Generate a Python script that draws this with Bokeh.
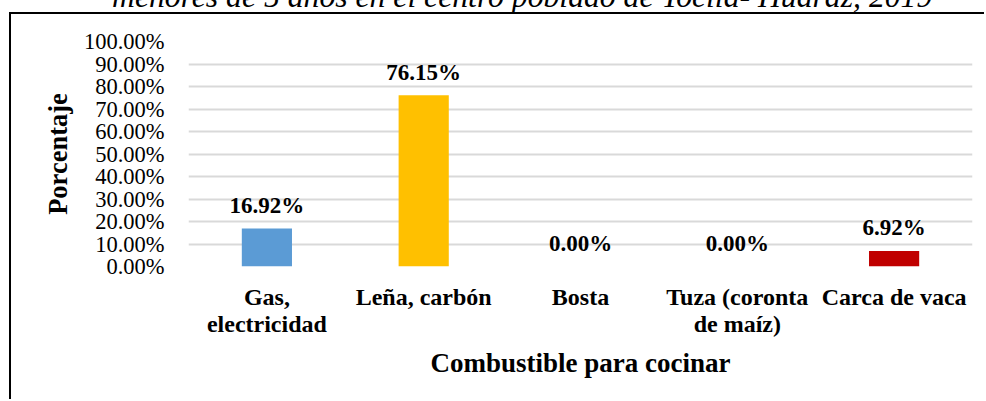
from bokeh.plotting import figure
from bokeh.models import (ColumnDataSource, Range1d, FixedTicker, PrintfTickFormatter,
                          LabelSet, Div)
from bokeh.layouts import column
from bokeh.embed import file_html
from bokeh.resources import INLINE

categories = ["Gas,\nelectricidad", "Leña, carbón", "Bosta", "Tuza (coronta\nde maíz)", "Carca de vaca"]
values = [16.92, 76.15, 0.00, 0.00, 6.92]
colors = ["#5B9BD5", "#FFC000", "#5B9BD5", "#5B9BD5", "#C00000"]
labels = ["16.92%", "76.15%", "0.00%", "0.00%", "6.92%"]
y_ticks = [0, 10, 20, 30, 40, 50, 60, 70, 80, 90, 100]
title_text = "menores de 5 años en el centro poblado de Toclla- Huaraz, 2019"

SERIF = "Liberation Serif"

src = ColumnDataSource(dict(cat=categories, val=values, color=colors, lab=labels))

# partially visible caption above the chart box (cut at the top, as in the source image)
title_div = Div(
    text=("<div style=\"position:relative;top:-19px;left:112px;white-space:nowrap;"
          "font-family:'Liberation Serif';font-style:italic;font-size:31.7px;"
          "line-height:31px;color:#000;\">" + title_text + "</div>"),
    width=986, height=12, styles={"overflow": "hidden", "margin": "0", "padding": "0"})

p = figure(x_range=categories, y_range=Range1d(0, 100), width=975, height=387,
           output_backend="svg", toolbar_location=None,
           min_border_left=177, min_border_right=14, min_border_top=27, min_border_bottom=135)
p.styles = {"border-top": "2px solid black", "border-left": "2px solid black",
            "margin-left": "9px"}

p.vbar(x="cat", top="val", width=0.32, fill_color="color", line_color=None, source=src)

p.add_layout(LabelSet(x="cat", y="val", text="lab", source=src, y_offset=23,
                      text_align="center", text_baseline="middle",
                      text_font=SERIF, text_font_style="bold", text_font_size="23px",
                      text_color="black"))

p.outline_line_color = None
p.background_fill_color = "white"
p.border_fill_color = "white"

p.xgrid.grid_line_color = None
p.ygrid.grid_line_color = "#D9D9D9"
p.ygrid.grid_line_width = 2
p.ygrid.ticker = FixedTicker(ticks=y_ticks)

p.yaxis.ticker = FixedTicker(ticks=y_ticks)
p.yaxis.formatter = PrintfTickFormatter(format="%.2f%%")
p.yaxis.axis_line_color = None
p.yaxis.major_tick_line_color = None
p.yaxis.minor_tick_line_color = None
p.yaxis.major_label_standoff = 18
p.yaxis.major_label_text_font = SERIF
p.yaxis.major_label_text_font_size = "22.5px"
p.yaxis.major_label_text_color = "black"
p.yaxis.axis_label = "Porcentaje"
p.yaxis.axis_label_text_font = SERIF
p.yaxis.axis_label_text_font_style = "bold"
p.yaxis.axis_label_text_font_size = "26.5px"
p.yaxis.axis_label_text_color = "black"
p.yaxis.axis_label_standoff = 8

p.xaxis.axis_line_color = None
p.xaxis.major_tick_line_color = None
p.xaxis.minor_tick_line_color = None
p.xaxis.major_label_standoff = 11
p.xaxis.major_label_text_font = SERIF
p.xaxis.major_label_text_font_style = "bold"
p.xaxis.major_label_text_font_size = "24px"
p.xaxis.major_label_text_line_height = 1.05
p.xaxis.major_label_text_color = "black"
p.xaxis.axis_label = "Combustible para cocinar"
p.xaxis.axis_label_text_font = SERIF
p.xaxis.axis_label_text_font_style = "bold"
p.xaxis.axis_label_text_font_size = "27px"
p.xaxis.axis_label_text_color = "black"
p.xaxis.axis_label_standoff = 8

root = column(title_div, p, spacing=0)

open("out.html", "w").write(file_html(root, INLINE))
